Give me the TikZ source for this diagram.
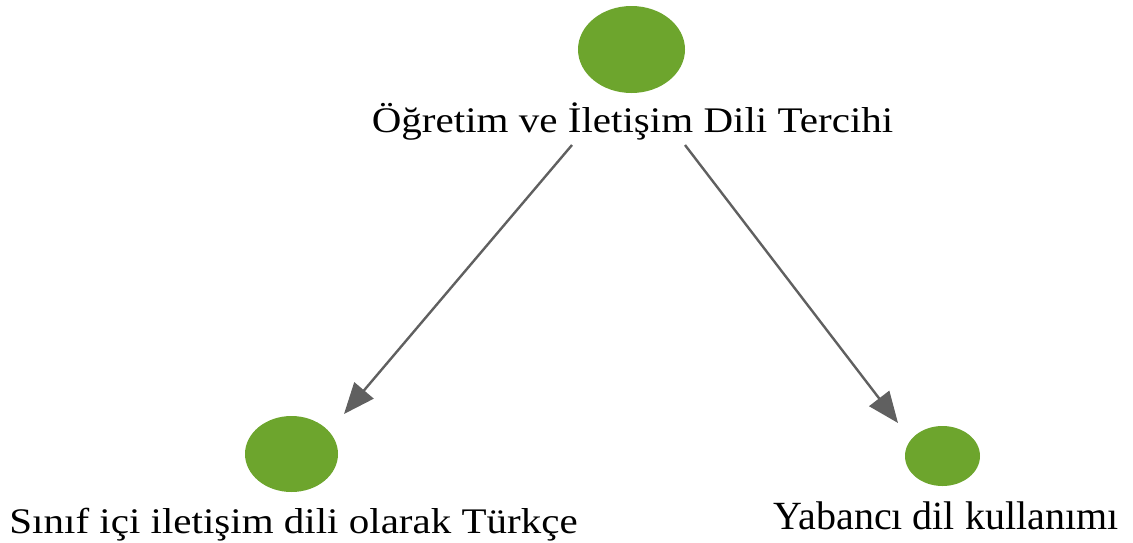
\documentclass[tikz,border=0pt]{standalone}
\usepackage{fontspec}
\setmainfont{Liberation Serif}
\usetikzlibrary{arrows.meta,shapes.geometric}
\definecolor{leaf}{RGB}{109,165,45}
\definecolor{conn}{RGB}{96,96,96}
\tikzset{
  dot/.style={ellipse, fill=leaf, draw=none, inner sep=0pt},
  lbl/.style={anchor=base, inner sep=0pt, font=\fontsize{40}{44}\selectfont},
  edge/.style={draw=conn, line width=2.4pt, -{Triangle[length=31pt,width=25pt]}}
}
\begin{document}
\begin{tikzpicture}[x=1pt,y=-1pt]
\useasboundingbox (0,0) rectangle (1133,542);
\node[dot, minimum width=107pt, minimum height=87pt] (top) at (631.5,49.5) {};
\node[lbl] (toplbl) at (632.5,132) {\scalebox{1.026}[0.9]{Öğretim ve İletişim Dili Tercihi}};
\node[dot, minimum width=93pt, minimum height=76pt] (left) at (291.5,454) {};
\node[lbl] (leftlbl) at (293.5,533) {\scalebox{1.025}[0.9]{Sınıf içi iletişim dili olarak Türkçe}};
\node[dot, minimum width=75pt, minimum height=60pt] (right) at (942.5,456) {};
\node[lbl] (rightlbl) at (946,529) {Yabancı dil kullanımı};
\coordinate (s1) at (572,145);
\coordinate (t1) at (344,414);
\coordinate (s2) at (685,145);
\coordinate (t2) at (898,423);
\draw[edge] (s1) -- (t1);
\draw[edge] (s2) -- (t2);
\end{tikzpicture}
\end{document}
